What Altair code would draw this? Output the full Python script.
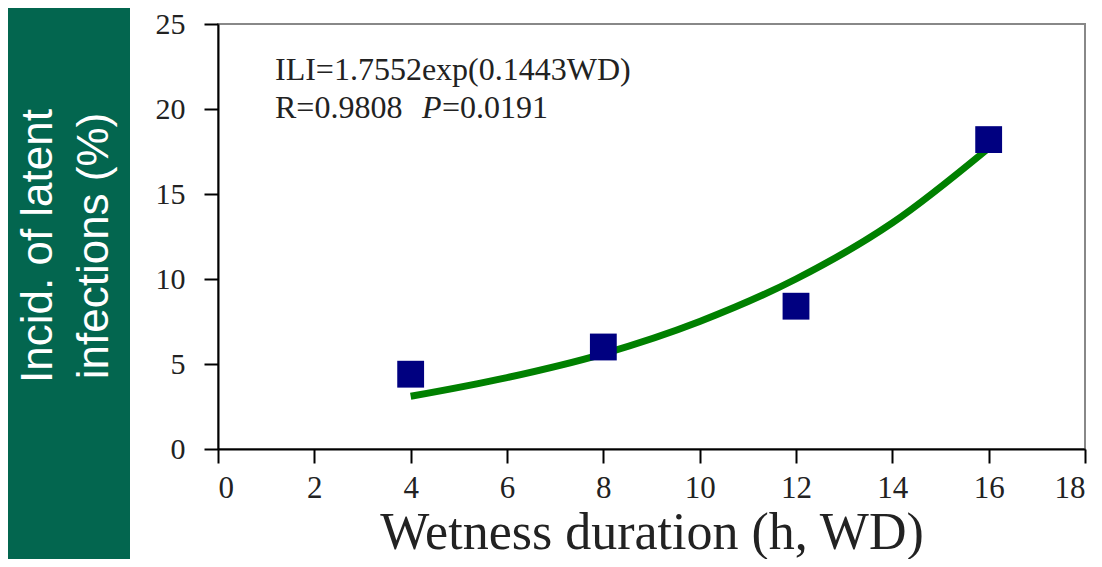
import altair as alt
import pandas as pd

# measured data points
wd_obs = [4, 8, 12, 16]
ili_obs = [4.4, 6.0, 8.4, 18.2]

# fitted curve
wd_fit = [4, 6, 8, 10, 12, 14, 16]
ili_fit = [3.1, 4.2, 5.6, 7.5, 10.0, 13.3, 17.7]

x_ticks = [0, 2, 4, 6, 8, 10, 12, 14, 16, 18]
y_ticks = [0, 5, 10, 15, 20, 25]

y_title_lines = ["Incid. of latent", "infections (%)"]
x_title = "Wetness duration (h, WD)"
eq_text = "ILI=1.7552exp(0.1443WD)"
r_text = "R=0.9808"
p_letter = "P"
p_text = "=0.0191"

obs = pd.DataFrame({"wd": wd_obs, "ili": ili_obs})
fit = pd.DataFrame({"wd": wd_fit, "ili": ili_fit})
one = alt.Data(values=[{"k": 0}])

W, H = 867, 425
PL, PT = 210, 16

xscale = alt.Scale(domain=[0, 18], nice=False, zero=False)
yscale = alt.Scale(domain=[0, 25], nice=False)

xaxis = alt.Axis(values=x_ticks, title=x_title, grid=False, format="d",
                 labelFont="Liberation Serif", labelFontSize=31, labelColor="#222",
                 labelPadding=10, tickSize=14, tickWidth=2, tickColor="black",
                 domainColor="black", domainWidth=2,
                 titleFont="Liberation Serif", titleFontSize=52, titleFontWeight="normal",
                 titleColor="#222", titlePadding=4)
yaxis = alt.Axis(values=y_ticks, title=None, grid=False, format="d",
                 labelFont="Liberation Serif", labelFontSize=30, labelColor="#222",
                 labelPadding=19, tickSize=14, tickWidth=2, tickColor="black",
                 domainColor="black", domainWidth=2)

band = alt.Chart(one).mark_rect(color="#03664F").encode(
    x=alt.value(-PL), x2=alt.value(-PL + 122),
    y=alt.value(-PT), y2=alt.value(-PT + 551),
)

ytitle1 = alt.Chart(one).mark_text(
    text=y_title_lines[0], angle=270, align="center", baseline="alphabetic",
    font="Liberation Sans", fontSize=44, color="white",
).encode(x=alt.value(52 - 218), y=alt.value(246 - 24))

ytitle2 = alt.Chart(one).mark_text(
    text=y_title_lines[1], angle=270, align="center", baseline="alphabetic",
    font="Liberation Sans", fontSize=44, color="white",
).encode(x=alt.value(108 - 218), y=alt.value(246 - 24))

eq = alt.Chart(one).mark_text(
    text=eq_text, align="left", baseline="alphabetic",
    font="Liberation Serif", fontSize=32, color="#222",
).encode(x=alt.value(275 - 218), y=alt.value(80 - 24))

rt = alt.Chart(one).mark_text(
    text=r_text, align="left", baseline="alphabetic",
    font="Liberation Serif", fontSize=32, color="#222",
).encode(x=alt.value(275 - 218), y=alt.value(118 - 24))

pl = alt.Chart(one).mark_text(
    text=p_letter, align="left", baseline="alphabetic", fontStyle="italic",
    font="Liberation Serif", fontSize=32, color="#222",
).encode(x=alt.value(422 - 218), y=alt.value(118 - 24))

pt = alt.Chart(one).mark_text(
    text=p_text, align="left", baseline="alphabetic",
    font="Liberation Serif", fontSize=32, color="#222",
).encode(x=alt.value(442 - 218), y=alt.value(118 - 24))

line = alt.Chart(fit).mark_line(color="#008000", strokeWidth=7, interpolate="monotone").encode(
    x=alt.X("wd:Q", scale=xscale, axis=xaxis),
    y=alt.Y("ili:Q", scale=yscale, axis=yaxis),
)

pts = alt.Chart(obs).mark_point(shape="square", filled=True, size=720,
                                color="#000080", opacity=1).encode(
    x=alt.X("wd:Q", scale=xscale),
    y=alt.Y("ili:Q", scale=yscale),
)

chart = alt.layer(band, ytitle1, ytitle2, eq, rt, pl, pt, line, pts).properties(
    width=W, height=H,
    autosize=alt.AutoSizeParams(type="none"),
    padding={"left": PL, "top": PT, "right": 9, "bottom": 110},
    background="white",
).configure_view(stroke="#888888", strokeWidth=2)

chart.save("out.html", embed_options={"renderer": "svg", "actions": False})
